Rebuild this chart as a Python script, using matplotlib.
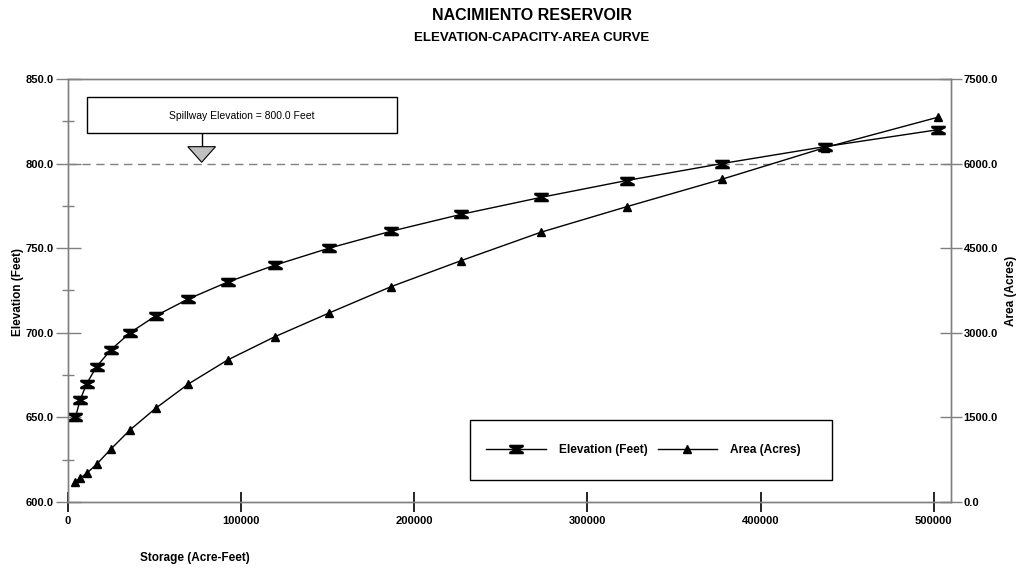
import matplotlib
matplotlib.use("Agg")
import matplotlib.pyplot as plt
from matplotlib.path import Path
from matplotlib.patches import Polygon, Rectangle

plt.rcParams['font.family'] = ['Liberation Sans', 'DejaVu Sans']

# Datos
storage = [4300, 6900, 10800, 16500, 24800, 35800, 50600, 69500, 92200,
           119500, 150700, 186500, 227000, 273000, 322700, 377600, 437000, 502300]
elevation = [650, 660, 670, 680, 690, 700, 710, 720, 730,
             740, 750, 760, 770, 780, 790, 800, 810, 820]
area = [360, 420, 509, 668, 940, 1277, 1661, 2092, 2518,
        2931, 3350, 3817, 4279, 4782, 5236, 5722, 6282, 6821]

spillway_elev = 800.0
spillway_storage = 77200

x_ticks = [0, 100000, 200000, 300000, 400000, 500000]
left_ticks = [600, 650, 700, 750, 800, 850]
right_ticks = [0, 1500, 3000, 4500, 6000, 7500]

GRAY = '#808080'
W, H = 1021, 575
AX_L, AX_R, AX_T, AX_B = 68, 951, 79, 502  # limites do eixo em pixels


def ax_frac(px, py):
    """Converte pixel da imagem em fração do eixo."""
    return (px - AX_L) / (AX_R - AX_L), (AX_B - py) / (AX_B - AX_T)


# marcador tipo "ampulheta"
hourglass = Path([(-1, 0.62), (1, 0.62), (1, 0.42), (0.18, 0), (1, -0.42),
                  (1, -0.62), (-1, -0.62), (-1, -0.42), (-0.18, 0), (-1, 0.42),
                  (-1, 0.62)], closed=True)

fig = plt.figure(figsize=(W / 100, H / 100), dpi=100)
ax = fig.add_axes([AX_L / W, (H - AX_B) / H, (AX_R - AX_L) / W, (AX_B - AX_T) / H])
ax2 = ax.twinx()

l1, = ax.plot(storage, elevation, color='black', linewidth=1.0,
              marker=hourglass, markersize=9.5, markerfacecolor='black',
              markeredgecolor='black', label='Elevation (Feet)', zorder=3)
l2, = ax2.plot(storage, area, color='black', linewidth=1.0,
               marker='^', markersize=6, markerfacecolor='black',
               markeredgecolor='black', label='Area (Acres)', zorder=3)

ax.set_xlim(0, 510000)
ax.set_ylim(600, 850)
ax2.set_ylim(0, 7500)

# linha do vertedouro
ax.axhline(spillway_elev, color=GRAY, linestyle=(0, (6, 4)), linewidth=1.0, zorder=1)

# eixos e ticks
for a in (ax, ax2):
    for s in a.spines.values():
        s.set_color(GRAY)
        s.set_linewidth(1.0)

ax.set_xticks(x_ticks)
ax.set_xticklabels([str(v) for v in x_ticks], fontsize=8, fontweight='bold')
ax.tick_params(axis='x', direction='inout', length=14, width=1.2, color='black', pad=3)

ax.set_yticks(left_ticks)
ax.set_yticklabels([f"{v:.1f}" for v in left_ticks], fontsize=8, fontweight='bold')
ax.set_yticks([625, 675, 725, 775, 825], minor=True)
ax.tick_params(axis='y', which='major', direction='inout', length=18, width=1.0, color=GRAY, pad=1)
ax.tick_params(axis='y', which='minor', direction='inout', length=9, width=1.0, color=GRAY)

ax2.set_yticks(right_ticks)
ax2.set_yticklabels([f"{v:.1f}" for v in right_ticks], fontsize=8, fontweight='bold')
ax2.tick_params(axis='y', direction='inout', length=16, width=1.0, color=GRAY, pad=1)

# rótulos dos eixos
fig.text(18 / W, 1 - 292 / H, 'Elevation (Feet)', fontsize=8.5, fontweight='bold',
         rotation=90, ha='center', va='center')
fig.text(1011 / W, 1 - 291 / H, 'Area (Acres)', fontsize=8.5, fontweight='bold',
         rotation=90, ha='center', va='center')
fig.text(195 / W, 1 - 558 / H, 'Storage (Acre-Feet)', fontsize=8.5,
         fontweight='bold', ha='center', va='center')

# títulos
fig.text(532 / W, 1 - 16 / H, 'NACIMIENTO RESERVOIR', fontsize=11.5,
         fontweight='bold', ha='center', va='center')
fig.text(532 / W, 1 - 38 / H, 'ELEVATION-CAPACITY-AREA CURVE', fontsize=9.5,
         fontweight='bold', ha='center', va='center')

# caixa do vertedouro
box = Rectangle((87 / W, 1 - 133 / H), 310 / W, 36 / H,
                transform=fig.transFigure, facecolor='white', edgecolor='black',
                linewidth=1.0, zorder=5)
fig.patches.append(box)
fig.text(242 / W, 1 - 116 / H, 'Spillway Elevation = 800.0 Feet',
         fontsize=7.5, ha='center', va='center', zorder=6)

# seta triangular apontando para a linha de 800
tx = spillway_storage
ax.plot([tx, tx], [820.5, 810], color='black', linewidth=1.0, zorder=4)
tri = Polygon([(tx - 8000, 810), (tx + 8000, 810), (tx, spillway_elev + 0.8)],
              closed=True, facecolor='#c0c0c0', edgecolor='black', linewidth=0.8, zorder=4)
ax.add_patch(tri)

# legenda: moldura desenhada à parte, conteúdo sem moldura
fx0, fy0 = ax_frac(470, 480)
fx1, fy1 = ax_frac(832, 420)
frame = Rectangle((fx0, fy0), fx1 - fx0, fy1 - fy0, transform=ax2.transAxes,
                  facecolor='white', edgecolor='black', linewidth=1.0, zorder=4)
ax2.add_patch(frame)
leg = ax2.legend(handles=[l1, l2], loc='center left', ncol=2,
                 bbox_to_anchor=ax_frac(486, 450),
                 prop={'size': 8.6, 'weight': 'bold'}, frameon=False,
                 handlelength=5.0, borderpad=0, columnspacing=0.84, handletextpad=1.09,
                 borderaxespad=0)
leg.set_zorder(5)

fig.savefig('out.png', dpi=100)
